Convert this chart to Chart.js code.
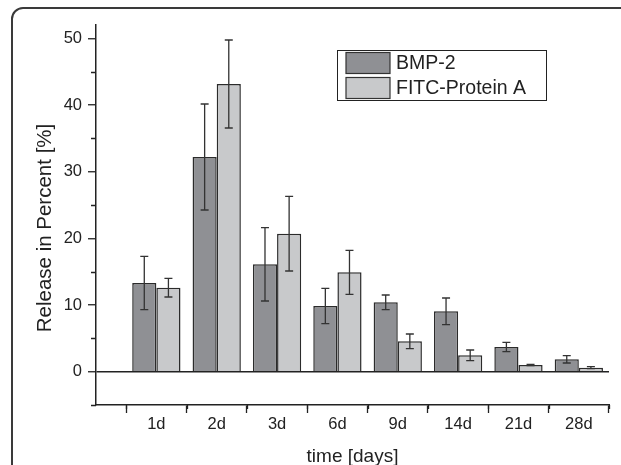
<!DOCTYPE html>
<html>
<head>
<meta charset="utf-8">
<script src="https://cdn.jsdelivr.net/npm/chart.js@4.4.0/dist/chart.umd.min.js"></script>
<style>
  html, body { margin: 0; padding: 0; background: #fff; }
  .wrap { position: relative; width: 621px; height: 465px; overflow: hidden; }
  .card {
    position: absolute; left: 11px; top: 7px; width: 700px; height: 600px;
    border: 2px solid #3a3a3a; border-radius: 12px; box-sizing: border-box;
  }
  canvas { position: absolute; left: 0; top: 0; }
</style>
</head>
<body>
<div class="wrap">
  <div class="card"></div>
  <canvas id="release-chart" width="621" height="465"></canvas>
</div>
<script>
// release data
const days = ["1d", "2d", "3d", "6d", "9d", "14d", "21d", "28d"];
const bmp2 = [13.3, 32.2, 16.1, 9.85, 10.4, 9.05, 3.7, 1.85];
const bmp2Err = [4.0, 7.95, 5.5, 2.65, 1.1, 2.0, 0.7, 0.55];
const fitc = [12.6, 43.15, 20.7, 14.9, 4.55, 2.45, 1.0, 0.6];
const fitcErr = [1.4, 6.6, 5.6, 3.3, 1.1, 0.8, 0.1, 0.15];

// axis ticks
const xMajorTicks = [0, 1, 2, 3, 4, 5, 6, 7, 8];
const xMinorTicks = [0.5, 1.5, 2.5, 3.5, 4.5, 5.5, 6.5, 7.5, 8.5];
const yMajorTicks = [0, 10, 20, 30, 40, 50];
const yMinorTicks = [-5, 5, 15, 25, 35, 45];

const yTitle = "Release in Percent [%]";
const inkColor = "#222";
const fontFamily = "'Liberation Sans', Arial, Helvetica, sans-serif";

// error bars with caps, drawn on top of the bars
const errorBarsPlugin = {
  id: "errorBars",
  afterDatasetsDraw(chart) {
    const ctx = chart.ctx;
    const yScale = chart.scales.y;
    ctx.save();
    ctx.strokeStyle = "#333";
    ctx.lineWidth = 1.3;
    chart.data.datasets.forEach((ds, di) => {
      const meta = chart.getDatasetMeta(di);
      meta.data.forEach((bar, i) => {
        const v = ds.data[i].y;
        const e = ds.errors[i];
        const top = yScale.getPixelForValue(v + e);
        const bottom = yScale.getPixelForValue(v - e);
        const cap = 4;
        ctx.beginPath();
        ctx.moveTo(bar.x, top);
        ctx.lineTo(bar.x, bottom);
        ctx.moveTo(bar.x - cap, top);
        ctx.lineTo(bar.x + cap, top);
        ctx.moveTo(bar.x - cap, bottom);
        ctx.lineTo(bar.x + cap, bottom);
        ctx.stroke();
      });
    });
    ctx.restore();
  },
};

// short minor ticks on both axes, plus the rotated y title
const axisExtrasPlugin = {
  id: "axisExtras",
  afterDraw(chart) {
    const ctx = chart.ctx;
    const { x, y } = chart.scales;
    ctx.save();
    ctx.strokeStyle = inkColor;
    ctx.lineWidth = 1.3;
    ctx.beginPath();
    xMinorTicks.forEach((t) => {
      const px = Math.round(x.getPixelForValue(t)) + 0.5;
      ctx.moveTo(px, y.bottom);
      ctx.lineTo(px, y.bottom + 4);
    });
    yMinorTicks.forEach((t) => {
      const py = Math.round(y.getPixelForValue(t)) + 0.5;
      ctx.moveTo(x.left - 5, py);
      ctx.lineTo(x.left, py);
    });
    ctx.stroke();

    // y title sits a little below the middle of the axis in the original
    ctx.translate(45, 228);
    ctx.rotate(-Math.PI / 2);
    ctx.fillStyle = inkColor;
    ctx.font = "20.5px " + fontFamily;
    ctx.textAlign = "center";
    ctx.textBaseline = "middle";
    ctx.fillText(yTitle, 0, 0);
    ctx.restore();
  },
};

// boxed legend in the upper right of the plot
const boxLegendPlugin = {
  id: "boxLegend",
  afterDraw(chart) {
    const ctx = chart.ctx;
    const left = 337, top = 50, w = 209, h = 50;
    ctx.save();
    ctx.fillStyle = "#fff";
    ctx.fillRect(left, top, w, h);
    ctx.strokeStyle = inkColor;
    ctx.lineWidth = 1;
    ctx.strokeRect(left + 0.5, top + 0.5, w, h);
    ctx.font = "19.5px " + fontFamily;
    ctx.textBaseline = "middle";
    chart.data.datasets.forEach((ds, i) => {
      const sy = top + 2.5 + i * 25;
      ctx.fillStyle = ds.backgroundColor;
      ctx.fillRect(346, sy, 44, 21);
      ctx.strokeStyle = "#333";
      ctx.lineWidth = 1.2;
      ctx.strokeRect(346, sy, 44, 21);
      ctx.fillStyle = inkColor;
      ctx.fillText(ds.label, 396, sy + 11);
    });
    ctx.restore();
  },
};

const canvas = document.getElementById("release-chart");

new Chart(canvas, {
  type: "bar",
  data: {
    datasets: [
      {
        label: "BMP-2",
        data: days.map((d, i) => ({ x: i + 1, y: bmp2[i] })),
        errors: bmp2Err,
        backgroundColor: "#8f9094",
        borderColor: "#2b2b2b",
        borderWidth: 1.5,
      },
      {
        label: "FITC-Protein A",
        data: days.map((d, i) => ({ x: i + 1, y: fitc[i] })),
        errors: fitcErr,
        backgroundColor: "#c8c9cb",
        borderColor: "#2b2b2b",
        borderWidth: 1.5,
      },
    ],
  },
  options: {
    responsive: false,
    animation: false,
    categoryPercentage: 0.8,
    barPercentage: 1.0,
    layout: { padding: { top: 25, right: 12, left: 0, bottom: 0 } },
    scales: {
      x: {
        type: "linear",
        min: 0,
        max: 8.5,
        offset: false,
        afterFit: (scale) => { scale.height = 60; },
        afterBuildTicks: (scale) => {
          scale.ticks = xMajorTicks.map((v) => ({ value: v }));
        },
        ticks: {
          autoSkip: false,
          maxRotation: 0,
          padding: 2,
          color: inkColor,
          font: { family: fontFamily, size: 16.5 },
          callback: (value) => (value >= 1 ? days[value - 1] : ""),
        },
        grid: {
          drawOnChartArea: false,
          drawTicks: true,
          tickLength: 8,
          tickColor: inkColor,
          tickWidth: 1.3,
        },
        border: { display: true, color: inkColor, width: 1.5 },
        title: {
          display: true,
          text: "time [days]",
          color: inkColor,
          font: { family: fontFamily, size: 19, lineHeight: 0.9 },
          padding: { top: 0, bottom: 0 },
        },
      },
      y: {
        min: -5,
        max: 52,
        afterFit: (scale) => { scale.width = 96; },
        afterBuildTicks: (scale) => {
          scale.ticks = yMajorTicks.map((v) => ({ value: v }));
        },
        ticks: {
          padding: 6,
          color: inkColor,
          font: { family: fontFamily, size: 16.5 },
        },
        grid: {
          drawOnChartArea: true,
          drawTicks: true,
          tickLength: 8,
          tickColor: inkColor,
          tickWidth: 1.3,
          color: (ctx) => (ctx.tick && ctx.tick.value === 0 ? inkColor : "rgba(0,0,0,0)"),
          lineWidth: 1.5,
        },
        border: { display: true, color: inkColor, width: 1.5 },
      },
    },
    plugins: {
      legend: { display: false },
      tooltip: { enabled: false },
    },
  },
  plugins: [errorBarsPlugin, axisExtrasPlugin, boxLegendPlugin],
});
</script>
</body>
</html>
